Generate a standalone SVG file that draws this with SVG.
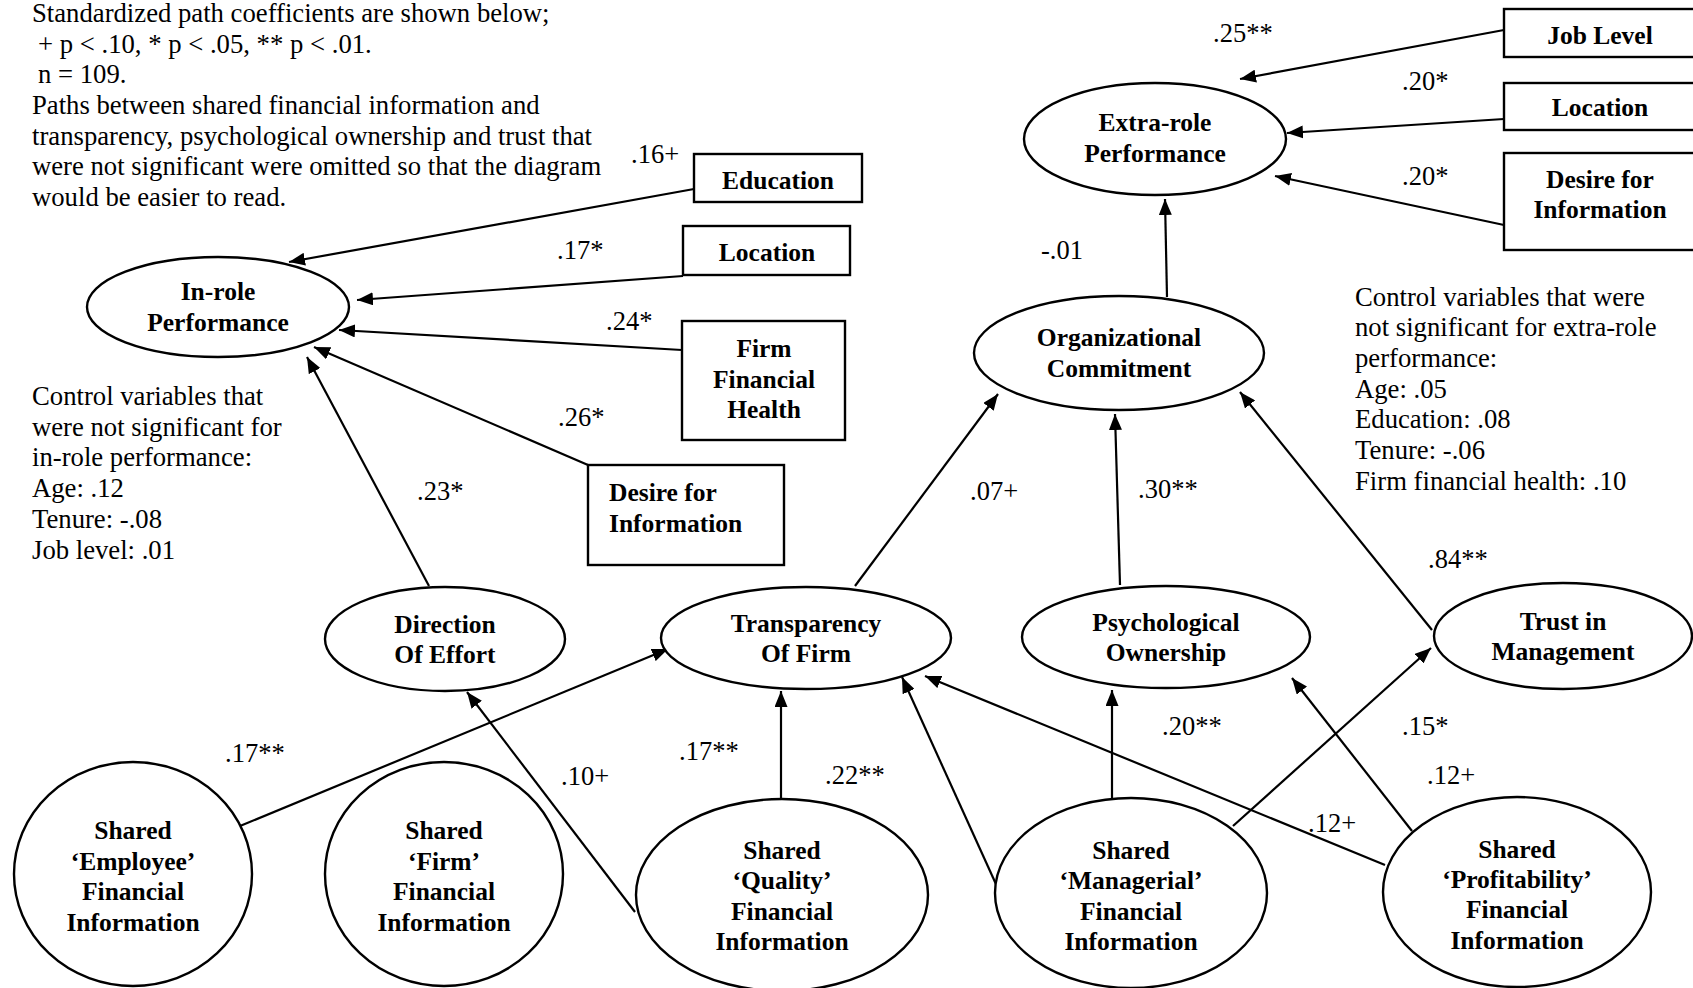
<svg xmlns="http://www.w3.org/2000/svg" width="1693" height="988" viewBox="0 0 1693 988">
  <defs>
    <marker id="arrow" markerUnits="userSpaceOnUse" markerWidth="17" markerHeight="13" refX="16" refY="6.5" orient="auto">
      <path d="M0,0 L16,6.5 L0,13 z" fill="#000"/>
    </marker>
    <style>
      .note { font-family: "Liberation Serif", "Times New Roman", serif; font-size: 26.7px; fill: #000; }
      .coef { font-family: "Liberation Serif", "Times New Roman", serif; font-size: 26.5px; fill: #000; }
      .lbl { font-family: "Liberation Serif", "Times New Roman", serif; font-size: 25.5px; font-weight: bold; fill: #000; text-anchor: middle; }
      .lbl-left { font-family: "Liberation Serif", "Times New Roman", serif; font-size: 25.5px; font-weight: bold; fill: #000; }
      .shape { fill: #fff; stroke: #000; stroke-width: 2.4; }
      .edge { stroke: #000; stroke-width: 2.2; fill: none; marker-end: url(#arrow); }
    </style>
  </defs>
  <rect width="1693" height="988" fill="#fff"/>

  <!-- notes -->
  <g id="legend-note">
    <text class="note" x="32" y="22">Standardized path coefficients are shown below;</text>
    <text class="note" x="38" y="53">+ p &lt; .10, * p &lt; .05, ** p &lt; .01.</text>
    <text class="note" x="38" y="83">n = 109.</text>
    <text class="note" x="32" y="114">Paths between shared financial information and</text>
    <text class="note" x="32" y="145">transparency, psychological ownership and trust that</text>
    <text class="note" x="32" y="175">were not significant were omitted so that the diagram</text>
    <text class="note" x="32" y="206">would be easier to read.</text>
  </g>
  <g id="inrole-controls-note">
    <text class="note" x="32" y="405">Control variables that</text>
    <text class="note" x="32" y="436">were not significant for</text>
    <text class="note" x="32" y="466">in-role performance:</text>
    <text class="note" x="32" y="497">Age: .12</text>
    <text class="note" x="32" y="528">Tenure: -.08</text>
    <text class="note" x="32" y="559">Job level: .01</text>
  </g>
  <g id="extrarole-controls-note">
    <text class="note" x="1355" y="306">Control variables that were</text>
    <text class="note" x="1355" y="336">not significant for extra-role</text>
    <text class="note" x="1355" y="367">performance:</text>
    <text class="note" x="1355" y="398">Age: .05</text>
    <text class="note" x="1355" y="428">Education: .08</text>
    <text class="note" x="1355" y="459">Tenure: -.06</text>
    <text class="note" x="1355" y="490">Firm financial health: .10</text>
  </g>

  <!-- connectors -->
  <g id="connectors">
    <line class="edge" x1="694" y1="189" x2="289" y2="262"/>
    <line class="edge" x1="683" y1="276" x2="357" y2="300"/>
    <line class="edge" x1="682" y1="350" x2="339" y2="330"/>
    <line class="edge" x1="588" y1="465" x2="314" y2="347"/>
    <line class="edge" x1="429" y1="586" x2="307" y2="357"/>
    <line class="edge" x1="855" y1="586" x2="998" y2="394"/>
    <line class="edge" x1="1120" y1="585" x2="1115" y2="414"/>
    <line class="edge" x1="1432" y1="630" x2="1240" y2="392"/>
    <line class="edge" x1="1167" y1="297" x2="1165" y2="199"/>
    <line class="edge" x1="1504" y1="30" x2="1240" y2="79"/>
    <line class="edge" x1="1504" y1="119" x2="1287" y2="133"/>
    <line class="edge" x1="1504" y1="225" x2="1275" y2="176"/>
    <line class="edge" x1="240" y1="826" x2="668" y2="649"/>
    <line class="edge" x1="635" y1="912" x2="467" y2="692"/>
    <line class="edge" x1="781" y1="799" x2="781" y2="691"/>
    <line class="edge" x1="1000" y1="893" x2="902" y2="677"/>
    <line class="edge" x1="1385" y1="865" x2="925" y2="676"/>
    <line class="edge" x1="1112" y1="799" x2="1112" y2="690"/>
    <line class="edge" x1="1233" y1="826" x2="1431" y2="648"/>
    <line class="edge" x1="1412" y1="831" x2="1292" y2="678"/>
  </g>

  <!-- path coefficients -->
  <g id="coefficients">
    <text class="coef" x="1213" y="42">.25**</text>
    <text class="coef" x="1402" y="90">.20*</text>
    <text class="coef" x="1402" y="185">.20*</text>
    <text class="coef" x="1041" y="259">-.01</text>
    <text class="coef" x="631" y="163">.16+</text>
    <text class="coef" x="557" y="259">.17*</text>
    <text class="coef" x="606" y="330">.24*</text>
    <text class="coef" x="558" y="426">.26*</text>
    <text class="coef" x="417" y="500">.23*</text>
    <text class="coef" x="970" y="500">.07+</text>
    <text class="coef" x="1138" y="498">.30**</text>
    <text class="coef" x="1428" y="568">.84**</text>
    <text class="coef" x="225" y="762">.17**</text>
    <text class="coef" x="561" y="785">.10+</text>
    <text class="coef" x="679" y="760">.17**</text>
    <text class="coef" x="825" y="784">.22**</text>
    <text class="coef" x="1162" y="735">.20**</text>
    <text class="coef" x="1402" y="735">.15*</text>
    <text class="coef" x="1427" y="784">.12+</text>
    <text class="coef" x="1308" y="832">.12+</text>
  </g>

  <!-- outcome constructs -->
  <g id="inrole-performance">
    <ellipse class="shape" cx="218" cy="307" rx="131" ry="50"/>
    <text class="lbl" x="218" y="300">In-role</text>
    <text class="lbl" x="218" y="331">Performance</text>
  </g>
  <g id="extrarole-performance">
    <ellipse class="shape" cx="1155" cy="139" rx="131" ry="56"/>
    <text class="lbl" x="1155" y="131">Extra-role</text>
    <text class="lbl" x="1155" y="162">Performance</text>
  </g>
  <g id="organizational-commitment">
    <ellipse class="shape" cx="1119" cy="353" rx="145" ry="57"/>
    <text class="lbl" x="1119" y="346">Organizational</text>
    <text class="lbl" x="1119" y="377">Commitment</text>
  </g>

  <!-- control variable boxes -->
  <g id="education-box">
    <rect class="shape" x="694" y="154" width="168" height="48"/>
    <text class="lbl" x="778" y="189">Education</text>
  </g>
  <g id="location-box-left">
    <rect class="shape" x="683" y="226" width="167" height="49"/>
    <text class="lbl" x="767" y="261">Location</text>
  </g>
  <g id="firm-health-box">
    <rect class="shape" x="682" y="321" width="163" height="119"/>
    <text class="lbl" x="764" y="357">Firm</text>
    <text class="lbl" x="764" y="388">Financial</text>
    <text class="lbl" x="764" y="418">Health</text>
  </g>
  <g id="desire-box-left">
    <rect class="shape" x="588" y="465" width="196" height="100"/>
    <text class="lbl-left" x="609" y="501">Desire for</text>
    <text class="lbl-left" x="609" y="532">Information</text>
  </g>
  <g id="job-level-box">
    <rect class="shape" x="1504" y="9" width="200" height="48"/>
    <text class="lbl" x="1600" y="44">Job Level</text>
  </g>
  <g id="location-box-right">
    <rect class="shape" x="1504" y="83" width="200" height="47"/>
    <text class="lbl" x="1600" y="116">Location</text>
  </g>
  <g id="desire-box-right">
    <rect class="shape" x="1504" y="153" width="200" height="97"/>
    <text class="lbl" x="1600" y="188">Desire for</text>
    <text class="lbl" x="1600" y="218">Information</text>
  </g>

  <!-- mediators -->
  <g id="direction-of-effort">
    <ellipse class="shape" cx="445" cy="639" rx="120" ry="52"/>
    <text class="lbl" x="445" y="633">Direction</text>
    <text class="lbl" x="445" y="663">Of Effort</text>
  </g>
  <g id="transparency-of-firm">
    <ellipse class="shape" cx="806" cy="638" rx="145" ry="51"/>
    <text class="lbl" x="806" y="632">Transparency</text>
    <text class="lbl" x="806" y="662">Of Firm</text>
  </g>
  <g id="psychological-ownership">
    <ellipse class="shape" cx="1166" cy="637" rx="144" ry="51"/>
    <text class="lbl" x="1166" y="631">Psychological</text>
    <text class="lbl" x="1166" y="661">Ownership</text>
  </g>
  <g id="trust-in-management">
    <ellipse class="shape" cx="1563" cy="636" rx="129" ry="53"/>
    <text class="lbl" x="1563" y="630">Trust in</text>
    <text class="lbl" x="1563" y="660">Management</text>
  </g>

  <!-- shared financial information -->
  <g id="shared-employee">
    <ellipse class="shape" cx="133" cy="874" rx="119" ry="112"/>
    <text class="lbl" x="133" y="839">Shared</text>
    <text class="lbl" x="133" y="870">‘Employee’</text>
    <text class="lbl" x="133" y="900">Financial</text>
    <text class="lbl" x="133" y="931">Information</text>
  </g>
  <g id="shared-firm">
    <ellipse class="shape" cx="444" cy="874" rx="119" ry="112"/>
    <text class="lbl" x="444" y="839">Shared</text>
    <text class="lbl" x="444" y="870">‘Firm’</text>
    <text class="lbl" x="444" y="900">Financial</text>
    <text class="lbl" x="444" y="931">Information</text>
  </g>
  <g id="shared-quality">
    <ellipse class="shape" cx="782" cy="895" rx="146" ry="96"/>
    <text class="lbl" x="782" y="859">Shared</text>
    <text class="lbl" x="782" y="889">‘Quality’</text>
    <text class="lbl" x="782" y="920">Financial</text>
    <text class="lbl" x="782" y="950">Information</text>
  </g>
  <g id="shared-managerial">
    <ellipse class="shape" cx="1131" cy="893" rx="136" ry="95"/>
    <text class="lbl" x="1131" y="859">Shared</text>
    <text class="lbl" x="1131" y="889">‘Managerial’</text>
    <text class="lbl" x="1131" y="920">Financial</text>
    <text class="lbl" x="1131" y="950">Information</text>
  </g>
  <g id="shared-profitability">
    <ellipse class="shape" cx="1517" cy="892" rx="134" ry="95"/>
    <text class="lbl" x="1517" y="858">Shared</text>
    <text class="lbl" x="1517" y="888">‘Profitability’</text>
    <text class="lbl" x="1517" y="918">Financial</text>
    <text class="lbl" x="1517" y="949">Information</text>
  </g>
</svg>
